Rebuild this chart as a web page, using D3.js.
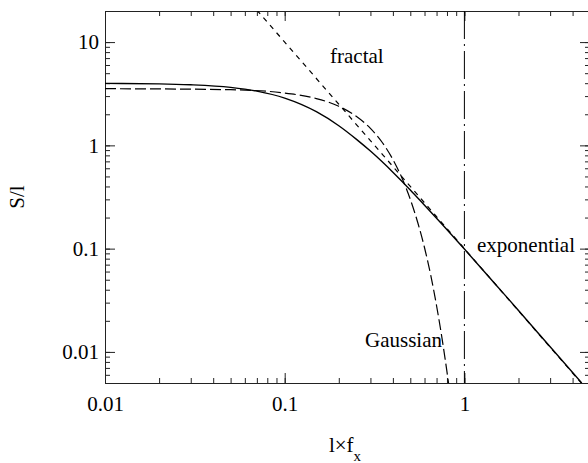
<!DOCTYPE html>
<html>
<head>
<meta charset="utf-8">
<script src="https://cdn.jsdelivr.net/npm/d3@7"></script>
<style>
  body { margin: 0; background: #fff; }
</style>
</head>
<body>
<div class="canvas"></div>
<script>
// values
const expX = [0.01, 0.02, 0.03, 0.05, 0.07, 0.1, 0.15, 0.2, 0.25, 0.3, 0.4, 0.5, 0.6, 0.7, 1, 1.5, 2, 3, 4.5];
const expY = [3.98, 3.94, 3.86, 3.64, 3.35, 2.87, 2.12, 1.55, 1.15, 0.88, 0.55, 0.37, 0.263, 0.197, 0.099, 0.0445, 0.0252, 0.0112, 0.0050];

const gaussX = [0.01, 0.05, 0.1, 0.15, 0.2, 0.25, 0.3, 0.35, 0.4, 0.45, 0.5, 0.55, 0.6, 0.65, 0.7, 0.75, 0.8, 0.82];
const gaussY = [3.54, 3.46, 3.21, 2.84, 2.39, 1.91, 1.46, 1.06, 0.73, 0.48, 0.30, 0.179, 0.102, 0.055, 0.028, 0.0137, 0.0064, 0.0047];

const fractalX = [0.07, 0.1, 0.2, 0.5, 1, 2, 5];
const fractalY = [20.4, 10, 2.5, 0.4, 0.1, 0.025, 0.004];

const cutoffX = [1];

const xMajor = [0.01, 0.1, 1];
const yMajor = [0.01, 0.1, 1, 10];
const xLabels = ['0.01', '0.1', '1'];
const yLabels = ['0.01', '0.1', '1', '10'];

const FONT = '"Liberation Serif", "DejaVu Serif", serif';

const svg = d3.select('.canvas')
  .append('svg')
    .attr('width', 588)
    .attr('height', 463)
    .style('font-family', FONT);

// margins and dimensions
const margin = {top: 11, left: 105};
const graphWidth = 485;
const graphHeight = 372;

const graph = svg.append('g')
  .attr('transform', `translate(${margin.left},${margin.top})`);

// scales
const x = d3.scaleLog()
  .domain([0.01, 5])
  .range([0, graphWidth]);

const y = d3.scaleLog()
  .domain([0.005, 20])
  .range([graphHeight, 0]);

graph.append('clipPath')
  .attr('id', 'clip')
  .append('rect')
    .attr('width', graphWidth)
    .attr('height', graphHeight);

// axes: minor ticks 5px, major 10px, all pointing inward
const fmt = (labels, majors) => d => labels[majors.indexOf(d)] || '';

function axisPair(axisFn, scale, majors, labels, transform) {
  const minor = graph.append('g').attr('transform', transform)
    .call(axisFn(scale).tickValues(scale.ticks()).tickSize(-5).tickFormat(''));
  const major = graph.append('g').attr('transform', transform)
    .call(axisFn(scale).tickValues(majors).tickSize(-10).tickSizeOuter(0)
      .tickPadding(labels ? (axisFn === d3.axisLeft ? 6 : 13) : 3)
      .tickFormat(labels ? fmt(labels, majors) : ''));
  minor.select('.domain').remove();
  [minor, major].forEach(g => {
    g.attr('font-family', null);
    g.selectAll('line').attr('stroke', '#222').attr('stroke-width', 1);
    g.selectAll('.domain').attr('stroke', '#222').attr('stroke-width', 1);
    g.selectAll('text')
      .style('font-family', FONT)
      .style('font-size', '21px')
      .attr('fill', '#000');
  });
  return major;
}

axisPair(d3.axisBottom, x, xMajor, xLabels, `translate(0,${graphHeight})`);
axisPair(d3.axisTop, x, xMajor, null, 'translate(0,0)');
axisPair(d3.axisLeft, y, yMajor, yLabels, 'translate(0,0)');
axisPair(d3.axisRight, y, yMajor, null, `translate(${graphWidth},0)`);

// curves
const line = d3.line()
  .x(d => x(d[0]))
  .y(d => y(d[1]))
  .curve(d3.curveMonotoneX);

const plot = graph.append('g').attr('clip-path', 'url(#clip)');

plot.append('path')
  .attr('d', line(d3.zip(fractalX, fractalY)))
  .attr('fill', 'none')
  .attr('stroke', '#000')
  .attr('stroke-width', 1.2)
  .attr('stroke-dasharray', '5,5');

plot.append('path')
  .attr('d', line(d3.zip(gaussX, gaussY)))
  .attr('fill', 'none')
  .attr('stroke', '#000')
  .attr('stroke-width', 1.2)
  .attr('stroke-dasharray', '11,4');

plot.append('path')
  .attr('d', line(d3.zip(expX, expY)))
  .attr('fill', 'none')
  .attr('stroke', '#000')
  .attr('stroke-width', 1.4);

plot.selectAll('.cutoff')
  .data(cutoffX)
  .enter()
  .append('line')
    .attr('x1', d => x(d))
    .attr('x2', d => x(d))
    .attr('y1', y(20))
    .attr('y2', y(0.005))
    .attr('stroke', '#000')
    .attr('stroke-width', 1)
    .attr('stroke-dasharray', '28,5,2,5');

// curve labels
const label = (tx, ty, anchor, txt) => svg.append('text')
  .attr('x', tx).attr('y', ty)
  .attr('text-anchor', anchor)
  .style('font-family', FONT)
  .style('font-size', '21px')
  .text(txt);

label(330, 63, 'start', 'fractal');
label(477, 252, 'start', 'exponential');
label(442, 347, 'end', 'Gaussian');

// axis titles
const xt = svg.append('text')
  .attr('x', 345)
  .attr('y', 452)
  .attr('text-anchor', 'middle')
  .style('font-family', FONT)
  .style('font-size', '21px');
xt.append('tspan').text('l×f');
xt.append('tspan').attr('dy', 9).style('font-size', '15px').text('x');

svg.append('text')
  .attr('transform', 'translate(24,197) rotate(-90)')
  .attr('text-anchor', 'middle')
  .style('font-family', FONT)
  .style('font-size', '21px')
  .text('S/l');
</script>
</body>
</html>
